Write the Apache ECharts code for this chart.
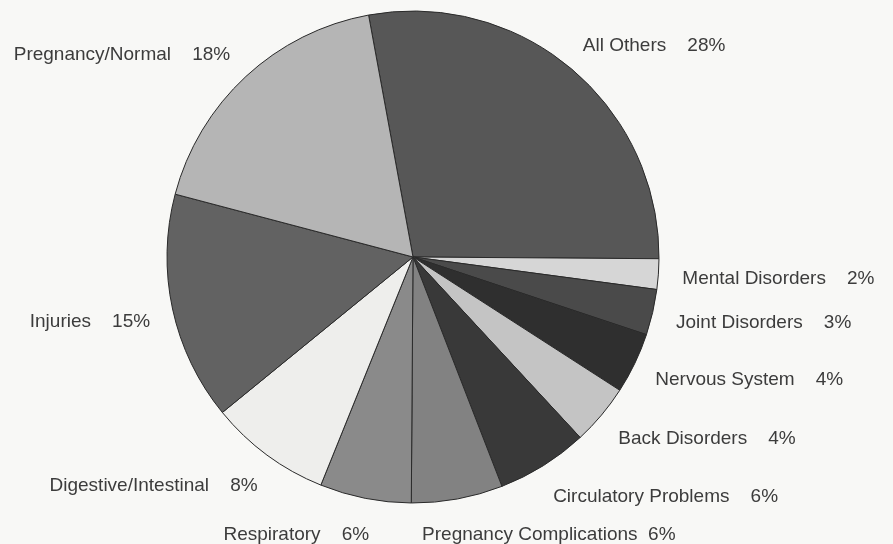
<!DOCTYPE html>
<html>
<head>
<meta charset="utf-8">
<script src="https://cdn.jsdelivr.net/npm/echarts@6/dist/echarts.min.js"></script>
<style>
html,body{margin:0;padding:0;background:#f8f8f6;}
#chart{width:893px;height:544px;}
</style>
</head>
<body>
<div id="chart"></div>
<script>
// Categories in clockwise order, starting at the top
var categories = ["All Others", "Mental Disorders", "Joint Disorders", "Nervous System", "Back Disorders", "Circulatory Problems", "Pregnancy Complications", "Respiratory", "Digestive/Intestinal", "Injuries", "Pregnancy/Normal"];
var percents = [28, 2, 3, 4, 4, 6, 6, 6, 8, 15, 18];
var sliceColors = ["#575757", "#d6d6d6", "#4a4a4a", "#2f2f2f", "#c4c4c4", "#393939", "#828282", "#8a8a8a", "#eeeeec", "#626262", "#b5b5b5"];
// gap between name and percentage in each label
var labelGaps = ["    ", "    ", "    ", "    ", "    ", "    ", "  ", "    ", "    ", "    ", "    "];
// small label nudges [dx, dy] so labels sit like the original
var labelNudges = [[-10,-3],[-7,3],[-7,5],[-8,5],[-8,7],[-9,9],[-45,10],[14,11],[11,10],[8,7],[7,-3]];

var chart = echarts.init(document.getElementById('chart'));
var data = categories.map(function (c, i) {
  return { name: c, value: percents[i], itemStyle: { color: sliceColors[i] } };
});
chart.setOption({
  backgroundColor: '#f8f8f6',
  animation: false,
  series: [{
    type: 'pie',
    center: [413, 257],
    radius: 246,
    startAngle: 100.4,
    clockwise: true,
    avoidLabelOverlap: false,
    data: data,
    itemStyle: { borderColor: '#2a2a2a', borderWidth: 1 },
    label: {
      show: true,
      position: 'outside',
      formatter: function (p) { return p.name + labelGaps[p.dataIndex] + p.value + '%'; },
      fontFamily: 'Liberation Sans, Arial, sans-serif',
      fontSize: 19,
      color: '#3c3c3c'
    },
    labelLine: { show: false, length: 26, length2: 0 },
    labelLayout: function (p) {
      var n = labelNudges[p.dataIndex];
      return { dx: n[0], dy: n[1] };
    },
    emphasis: { disabled: true }
  }]
});
</script>
</body>
</html>
